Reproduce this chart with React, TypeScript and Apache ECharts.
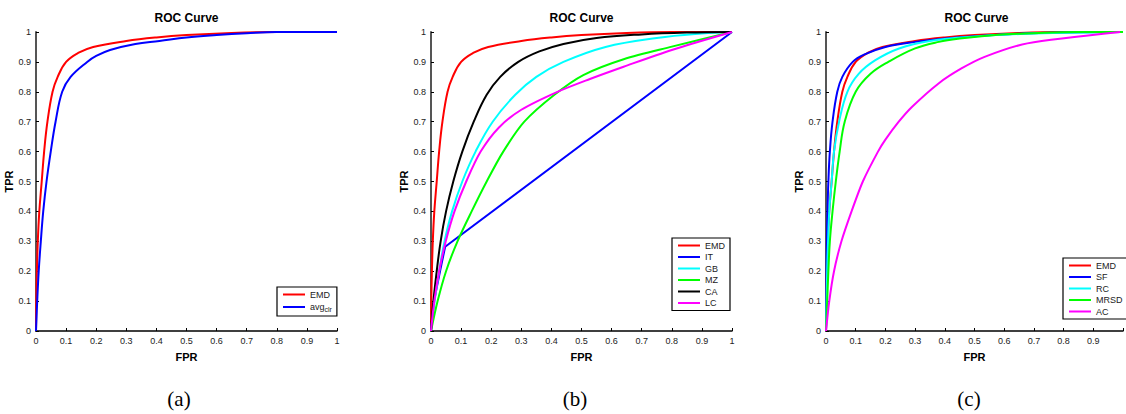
import React, { useEffect, useRef } from "react";
import * as echarts from "echarts";

// ---- data (FPR, TPR) ----
const emd: [number, number][] = [[0,0],[0.001,0.1],[0.003,0.2],[0.006,0.3],[0.011,0.4],[0.019,0.5],[0.027,0.6],[0.038,0.7],[0.055,0.8],[0.072,0.85],[0.1,0.9],[0.14,0.93],[0.19,0.95],[0.3,0.97],[0.4,0.982],[0.5,0.99],[0.65,0.997],[0.8,1],[1,1]];
const avgClr: [number, number][] = [[0,0],[0.004,0.1],[0.009,0.2],[0.016,0.3],[0.024,0.4],[0.035,0.5],[0.049,0.6],[0.065,0.7],[0.087,0.8],[0.115,0.85],[0.17,0.9],[0.2,0.92],[0.246,0.94],[0.33,0.96],[0.41,0.97],[0.5,0.982],[0.6,0.99],[0.7,0.996],[0.8,1],[1,1]];
const it: [number, number][] = [[0,0],[0.01,0.1],[0.03,0.2],[0.047,0.282],[1,1]];
const gb: [number, number][] = [[0,0],[0.012,0.1],[0.027,0.2],[0.045,0.3],[0.07,0.4],[0.104,0.5],[0.148,0.6],[0.205,0.7],[0.28,0.79],[0.35,0.85],[0.44,0.9],[0.58,0.95],[0.75,0.98],[0.9,0.995],[1,1]];
const mz: [number, number][] = [[0,0],[0.022,0.1],[0.05,0.2],[0.088,0.3],[0.135,0.4],[0.185,0.5],[0.24,0.6],[0.31,0.7],[0.41,0.79],[0.506,0.856],[0.64,0.909],[0.8,0.951],[1,1]];
const ca: [number, number][] = [[0,0],[0.008,0.1],[0.019,0.2],[0.032,0.3],[0.05,0.4],[0.074,0.5],[0.104,0.6],[0.142,0.7],[0.185,0.79],[0.23,0.85],[0.29,0.9],[0.36,0.935],[0.44,0.96],[0.55,0.98],[0.7,0.992],[0.85,0.998],[1,1]];
const lc: [number, number][] = [[0,0],[0.011,0.1],[0.027,0.2],[0.049,0.3],[0.078,0.4],[0.117,0.5],[0.165,0.6],[0.225,0.68],[0.3,0.74],[0.42,0.8],[0.528,0.843],[0.64,0.884],[0.8,0.94],[1,1]];
const sf: [number, number][] = [[0,0],[0.001,0.1],[0.002,0.2],[0.003,0.3],[0.005,0.4],[0.008,0.5],[0.013,0.6],[0.022,0.7],[0.038,0.8],[0.055,0.85],[0.09,0.9],[0.13,0.925],[0.2,0.95],[0.3,0.967],[0.4,0.978],[0.5,0.986],[0.65,0.994],[0.8,0.998],[1,1]];
const rc: [number, number][] = [[0,0],[0.002,0.1],[0.004,0.2],[0.007,0.3],[0.011,0.4],[0.019,0.5],[0.027,0.6],[0.044,0.7],[0.072,0.8],[0.11,0.86],[0.165,0.905],[0.246,0.945],[0.35,0.97],[0.5,0.985],[0.7,0.995],[1,1]];
const mrsd: [number, number][] = [[0,0],[0.004,0.1],[0.008,0.2],[0.013,0.3],[0.022,0.4],[0.033,0.5],[0.046,0.6],[0.063,0.7],[0.1,0.8],[0.15,0.86],[0.21,0.9],[0.3,0.945],[0.38,0.967],[0.45,0.978],[0.57,0.99],[0.7,0.996],[0.85,1],[1,1]];
const ac: [number, number][] = [[0,0],[0.011,0.1],[0.027,0.2],[0.052,0.3],[0.086,0.4],[0.124,0.5],[0.175,0.6],[0.2,0.64],[0.245,0.7],[0.29,0.75],[0.379,0.828],[0.456,0.878],[0.534,0.917],[0.678,0.962],[0.99,1]];

const panelTitles = ["ROC Curve", "ROC Curve", "ROC Curve"];
const captions = ["(a)", "(b)", "(c)"];
const xName = "FPR";
const yName = "TPR";

// series per panel: [id, label, color, data, smooth]
type S = [string, string, string, [number, number][], number | false];
const panels: S[][] = [
  [
    ["EMD_a", "EMD", "#ff0000", emd, 0.4],
    ["avg_clr", "avg{s|clr}", "#0000ff", avgClr, 0.4],
  ],
  [
    ["EMD_b", "EMD", "#ff0000", emd, 0.4],
    ["IT", "IT", "#0000ff", it, false],
    ["GB", "GB", "#00ffff", gb, 0.4],
    ["MZ", "MZ", "#00ff00", mz, 0.3],
    ["CA", "CA", "#000000", ca, 0.4],
    ["LC", "LC", "#ff00ff", lc, 0.3],
  ],
  [
    ["EMD_c", "EMD", "#ff0000", emd, 0.4],
    ["SF", "SF", "#0000ff", sf, 0.4],
    ["RC", "RC", "#00ffff", rc, 0.4],
    ["MRSD", "MRSD", "#00ff00", mrsd, 0.4],
    ["AC", "AC", "#ff00ff", ac, 0.25],
  ],
];

const SANS = "'Liberation Sans', Arial, Helvetica, sans-serif";
const NARROW = "'Liberation Sans Narrow', 'Liberation Sans', Arial, sans-serif";

export default function App() {
  const ref = useRef<HTMLDivElement>(null);
  useEffect(() => {
    if (!ref.current) return;
    const chart = echarts.init(ref.current, undefined, { renderer: "svg" });
    const lefts = [36, 431, 826];
    const gridW = 301;
    const top = 32;
    const h = 299;
    const legendPos = [
      [277, 287],
      [672, 238],
      [1063, 258],
    ];
    const captionX = [179, 575, 969];
    const labelMap: Record<string, string> = {};
    panels.forEach((p) => p.forEach((s) => (labelMap[s[0]] = s[1])));
    const fmt = (v: number) => String(Math.round(v * 10) / 10);

    const option: any = {
      animation: false,
      backgroundColor: "#fff",
      title: lefts.map((l, i) => ({
        text: panelTitles[i],
        left: l + gridW / 2,
        top: 12,
        textAlign: "center",
        padding: 0,
        textStyle: { fontSize: 12, fontWeight: "bold", color: "#000", fontFamily: SANS },
      })),
      grid: lefts.map((l) => ({ left: l, top, width: gridW, height: h })),
      xAxis: lefts.map((_, i) => ({
        type: "value",
        gridIndex: i,
        min: 0,
        max: 1,
        interval: 0.1,
        name: xName,
        nameLocation: "middle",
        nameGap: 20,
        nameTextStyle: { fontSize: 11, fontWeight: "bold", color: "#000", fontFamily: SANS },
        axisLine: { show: true, onZero: false, lineStyle: { color: "#000", width: 1.5 } },
        axisTick: { show: true, inside: true, length: 3, lineStyle: { color: "#000" } },
        axisLabel: {
          fontSize: 9,
          color: "#222",
          margin: 5,
          fontFamily: NARROW,
          showMinLabel: true,
          showMaxLabel: true,
          formatter: (v: number) => (i === 2 && v >= 1 ? "" : fmt(v)),
        },
        splitLine: { show: false },
      })),
      yAxis: lefts.map((_, i) => ({
        type: "value",
        gridIndex: i,
        min: 0,
        max: 1,
        interval: 0.1,
        name: yName,
        nameLocation: "middle",
        nameGap: 20,
        nameTextStyle: { fontSize: 11, fontWeight: "bold", color: "#000", fontFamily: SANS },
        axisLine: { show: true, onZero: false, lineStyle: { color: "#555", width: 2 } },
        axisTick: { show: true, inside: true, length: 3, lineStyle: { color: "#000" } },
        axisLabel: {
          fontSize: 9,
          color: "#222",
          margin: 5,
          fontFamily: NARROW,
          showMinLabel: true,
          showMaxLabel: true,
          formatter: fmt,
        },
        splitLine: { show: false },
      })),
      legend: panels.map((p, i) => ({
        orient: "vertical",
        left: legendPos[i][0],
        top: legendPos[i][1],
        data: p.map((s) => s[0]),
        selectedMode: false,
        padding: [3, 5, 3, 5],
        itemWidth: 22,
        itemHeight: 10,
        itemGap: i === 0 ? 3.5 : 2.5,
        borderColor: "#000",
        borderWidth: 1.2,
        backgroundColor: "#fff",
        itemStyle: { opacity: 0, borderWidth: 0 },
        lineStyle: { width: 2 },
        formatter: (name: string) => labelMap[name] || name,
        textStyle: {
          fontSize: 9,
          color: "#222",
          fontFamily: SANS,
          rich: {
            s: { fontSize: 7, color: "#222", fontFamily: SANS, padding: [5, 0, 0, 0] },
          },
        },
      })),
      series: panels.flatMap((p, i) =>
        p.map((s) => ({
          name: s[0],
          type: "line",
          xAxisIndex: i,
          yAxisIndex: i,
          data: s[3],
          symbol: "none",
          showSymbol: false,
          smooth: s[4],
          clip: true,
          lineStyle: { color: s[2], width: 2 },
          itemStyle: { color: s[2] },
        }))
      ),
      graphic: captions.map((c, i) => ({
        type: "text",
        x: captionX[i],
        y: 399,
        style: {
          text: c,
          fontSize: 21,
          fontFamily: "'Liberation Serif', 'Times New Roman', serif",
          fill: "#000",
          textAlign: "center",
          textVerticalAlign: "middle",
          align: "center",
          verticalAlign: "middle",
        },
      })),
    };
    chart.setOption(option);
    return () => chart.dispose();
  }, []);
  return (
    <div
      ref={ref}
      style={{ position: "absolute", left: 0, top: 0, width: 1126, height: 414, background: "#fff" }}
    />
  );
}
